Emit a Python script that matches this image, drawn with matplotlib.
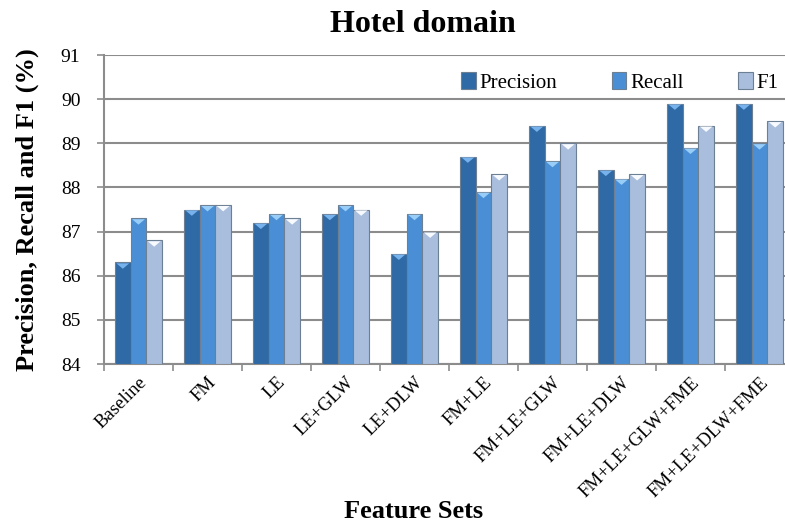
import matplotlib
matplotlib.use("Agg")
import matplotlib.pyplot as plt
import numpy as np

categories = ["Baseline", "FM", "LE", "LE+GLW", "LE+DLW", "FM+LE", "FM+LE+GLW",
              "FM+LE+DLW", "FM+LE+GLW+FME", "FM+LE+DLW+FME"]
precision = [86.3, 87.5, 87.2, 87.4, 86.5, 88.7, 89.4, 88.4, 89.9, 89.9]
recall    = [87.3, 87.6, 87.4, 87.6, 87.4, 87.9, 88.6, 88.2, 88.9, 89.0]
f1        = [86.8, 87.6, 87.3, 87.5, 87.0, 88.3, 89.0, 88.3, 89.4, 89.5]
series_names = ["Precision", "Recall", "F1"]
yticks = [84, 85, 86, 87, 88, 89, 90, 91]

plt.rcParams['font.family'] = ['Liberation Serif', 'DejaVu Serif']

fig = plt.figure(figsize=(7.85, 5.27), dpi=100)
ax = fig.add_axes([104 / 785, 1 - 364 / 527, 690 / 785, 309 / 527])

colors = ["#2f6aa6", "#4a8fd6", "#a9bddd"]
tri_colors = ["#78b2ec", "#98cdf8", "#f7faff"]
tri_marker = [(-1, 0), (1, 0), (0, -0.85), (-1, 0)]
x = np.arange(len(categories))
w = 0.227
for i, (vals, name) in enumerate(zip([precision, recall, f1], series_names)):
    xs = x + (i - 1) * w
    ax.bar(xs, np.array(vals) - 84, width=w, bottom=84, color=colors[i],
           edgecolor="#6d7f93", linewidth=0.8, label=name, zorder=3)
    ax.scatter(xs, np.array(vals) - 0.02, marker=tri_marker, s=85, color=tri_colors[i],
               edgecolors="none", zorder=4)

ax.set_ylim(84, 91)
ax.set_xlim(-0.5, 9.5)
ax.set_yticks(yticks)
ax.set_yticklabels([str(t) for t in yticks], fontsize=14)
ax.yaxis.grid(True, color="#8c8c8c", linewidth=1.5, zorder=0)
ax.set_axisbelow(True)
ax.set_xticks(np.arange(-0.5, 10, 1), minor=False)
ax.set_xticklabels([])
ax.set_xticks(x, minor=True)
ax.set_xticklabels(categories, minor=True, rotation=45, ha="right",
                   rotation_mode="anchor", fontsize=13.5)
ax.tick_params(axis="x", which="minor", length=0, pad=7)
ax.tick_params(axis="x", which="major", length=5, color="#8c8c8c", width=1.2)
ax.tick_params(axis="y", length=5, color="#8c8c8c", width=1.2, pad=12)
for s in ["top", "right"]:
    ax.spines[s].set_visible(False)
for s in ["left", "bottom"]:
    ax.spines[s].set_color("#8c8c8c")
    ax.spines[s].set_linewidth(1.5)

ax.set_ylabel("Precision, Recall and F1 (%)", fontsize=19, fontweight="bold", labelpad=16)
fig.text(414 / 785, 0.018, "Feature Sets", fontsize=19, fontweight="bold", ha="center")
fig.text(423 / 785, 0.94, "Hotel domain", fontsize=23, fontweight="bold", ha="center")

leg = ax.legend(loc="upper right", bbox_to_anchor=(0.996, 0.985), ncol=3, frameon=True,
                fontsize=15, handlelength=0.7, handleheight=0.9, columnspacing=2.6,
                handletextpad=0.2, borderpad=0.1)
leg.get_frame().set_edgecolor("none")
leg.get_frame().set_facecolor("white")
leg.get_frame().set_alpha(1)

fig.savefig("out.png", dpi=100)
